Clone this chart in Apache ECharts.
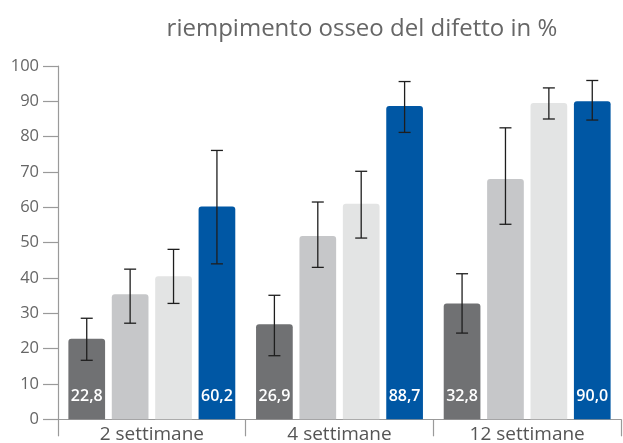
<!DOCTYPE html>
<html><head><meta charset="utf-8">
<script src="https://cdn.jsdelivr.net/npm/echarts@6/dist/echarts.min.js"></script>
<style>html,body{margin:0;padding:0;background:#fff}#c{width:623px;height:443px}</style>
</head><body><div id="c"></div>
<script>
const categories = ['2 settimane', '4 settimane', '12 settimane'];
const series1 = [22.8, 26.9, 32.8];
const series2 = [35.4, 51.9, 68.0];
const series3 = [40.5, 61.0, 89.5];
const series4 = [60.2, 88.7, 90.0];
const err1 = [[16.7, 28.6], [18.0, 35.1], [24.4, 41.2]];
const err2 = [[27.2, 42.5], [43.0, 61.5], [55.2, 82.5]];
const err3 = [[32.8, 48.1], [51.3, 70.2], [85.0, 93.8]];
const err4 = [[44.0, 76.1], [81.2, 95.6], [84.7, 95.9]];
const labeled = [true, false, false, true];
const yTicks = [0, 10, 20, 30, 40, 50, 60, 70, 80, 90, 100];
const titleText = 'riempimento osseo del difetto in %';

const colors = ['#707173', '#c6c7c9', '#e3e4e4', '#0057a4'];
const values = [series1, series2, series3, series4];
const errs = [err1, err2, err3, err4];
const BAR_W = 36.7, GAP = 6.7, FONT = '"Open Sans", "Noto Sans", sans-serif';

const chart = echarts.init(document.getElementById('c'), null, {renderer: 'canvas'});
const seriesList = [];
values.forEach((vals, s) => {
  seriesList.push({
    type: 'bar', data: vals, barWidth: BAR_W, barGap: (GAP / BAR_W * 100) + '%',
    itemStyle: {color: colors[s], borderRadius: [3, 3, 0, 0]},
    label: labeled[s] ? {
      show: true, position: 'insideBottom', distance: 15, color: '#fff',
      fontFamily: FONT, fontSize: 16, fontWeight: 600,
      formatter: p => p.value.toFixed(1).replace('.', ',')
    } : {show: false},
    silent: true, z: 2
  });
});
values.forEach((vals, s) => {
  seriesList.push({
    type: 'custom', z: 5, silent: true,
    data: errs[s].map((e, i) => [i, e[0], e[1]]),
    renderItem: (params, api) => {
      const i = api.value(0);
      const lo = api.coord([i, api.value(1)]);
      const hi = api.coord([i, api.value(2)]);
      const x = lo[0] + (s - 1.5) * (BAR_W + GAP);
      const c = 6;
      const st = {stroke: '#1e1e1e', lineWidth: 1.3};
      return {type: 'group', children: [
        {type: 'line', shape: {x1: x, y1: lo[1], x2: x, y2: hi[1]}, style: st},
        {type: 'line', shape: {x1: x - c, y1: lo[1], x2: x + c, y2: lo[1]}, style: st},
        {type: 'line', shape: {x1: x - c, y1: hi[1], x2: x + c, y2: hi[1]}, style: st}
      ]};
    }
  });
});

chart.setOption({
  animation: false,
  title: {text: titleText, left: 357, top: 12, textAlign: 'center',
    textStyle: {fontFamily: FONT, fontSize: 24, fontWeight: 400, color: '#666'}},
  grid: {left: 58, right: 2, top: 66, bottom: 23.7, containLabel: false, outerBoundsMode: 'none'},
  xAxis: {
    type: 'category', data: categories,
    axisLine: {lineStyle: {color: '#9a9a9a', width: 1.2}},
    axisTick: {show: true, length: 17, lineStyle: {color: '#9a9a9a', width: 1.2}},
    axisLabel: {fontFamily: FONT, fontSize: 19, color: '#555', margin: 6}
  },
  yAxis: {
    type: 'value', min: 0, max: 100, interval: 10,
    axisLine: {show: true, lineStyle: {color: '#9a9a9a', width: 1.2}},
    axisTick: {show: true, length: 15, lineStyle: {color: '#9a9a9a', width: 1.2}},
    splitLine: {show: false},
    axisLabel: {fontFamily: FONT, fontSize: 16.5, color: '#666', margin: 19,
      formatter: v => yTicks.includes(v) ? String(v) : ''}
  },
  series: seriesList
});
</script></body></html>
